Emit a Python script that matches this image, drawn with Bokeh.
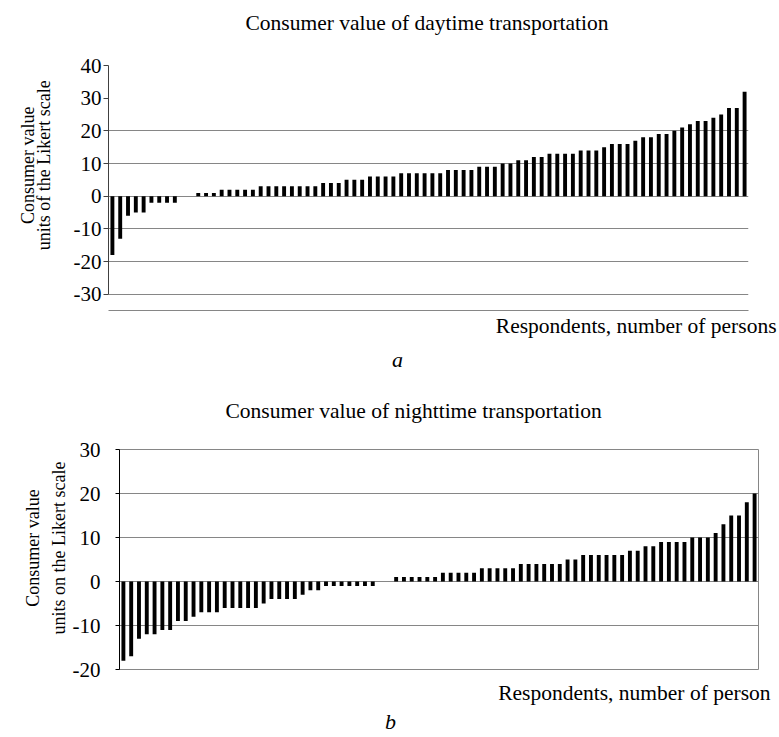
import math
from bokeh.plotting import figure
from bokeh.models import FixedTicker, Label, Range1d, CustomJSTickFormatter
from bokeh.layouts import column, row
from bokeh.embed import file_html
from bokeh.resources import INLINE

# ---- data ----
day_values = [-18, -13, -6, -5, -5, -2, -2, -2, -2, 0, 0,
              1, 1, 1, 2, 2, 2, 2, 2, 3, 3, 3, 3, 3, 3, 3, 3,
              4, 4, 4, 5, 5, 5, 6, 6, 6, 6, 7, 7, 7, 7, 7, 7,
              8, 8, 8, 8, 9, 9, 9, 10, 10, 11, 11, 12, 12,
              13, 13, 13, 13, 14, 14, 14, 15, 16, 16, 16, 17,
              18, 18, 19, 19, 20, 21, 22, 23, 23, 24, 25, 27, 27, 32]
night_values = [-18, -17, -13, -12, -12, -11, -11, -9, -9, -8, -7, -7, -7,
                -6, -6, -6, -6, -6, -5, -4, -4, -4, -4, -3, -2, -2,
                -1, -1, -1, -1, -1, -1, -1, 0, 0,
                1, 1, 1, 1, 1, 1, 2, 2, 2, 2, 2, 3, 3, 3, 3, 3,
                4, 4, 4, 4, 4, 4, 5, 5, 6, 6, 6, 6, 6, 6, 7, 7, 8, 8,
                9, 9, 9, 9, 10, 10, 10, 11, 13, 15, 15, 18, 20]
day_ticks = [-30, -20, -10, 0, 10, 20, 30, 40]
day_grid = [-30, -20, -10, 0, 10, 20, 40]
night_ticks = [-20, -10, 0, 10, 20, 30]

title_a = "Consumer value of daytime transportation"
title_b = "Consumer value of nighttime transportation"
ylab_a = ["Consumer value", "units of the Likert scale"]
ylab_b = ["Consumer value", "units on the Likert scale"]
xlab_a = "Respondents, number of persons"
xlab_b = "Respondents, number of person"
caption_a = "a"
caption_b = "b"

FONT = "Liberation Serif"
FS = "21.5px"
FS_TICK = "21px"
FS_Y = "18px"
FS_CAP = "22px"
GRID = "#868686"

n = len(day_values)
xs = list(range(1, n + 1))
fmt = CustomJSTickFormatter(code="return tick.toFixed(0);")


def text_fig(w, h):
    """A blank strip whose data coordinates are its own pixels (y downwards)."""
    t = figure(width=w, height=h, x_range=Range1d(0, w), y_range=Range1d(h, 0),
               output_backend="svg", toolbar_location=None, tools="",
               x_axis_location=None, y_axis_location=None,
               min_border=0, min_border_left=0, min_border_right=0,
               min_border_top=0, min_border_bottom=0)
    t.grid.visible = False
    t.outline_line_color = None
    t.background_fill_color = None
    t.border_fill_color = None
    return t


def add_text(f, x, y, text, align="left", baseline="middle", angle=0.0,
             size=FS, style="normal"):
    f.add_layout(Label(x=x, y=y, text=text, text_font=FONT, text_font_size=size,
                       text_font_style=style, text_align=align,
                       text_baseline=baseline, angle=angle, text_color="black"))


def chart_fig(w, h, yr, left, right, top, bottom):
    p = figure(width=w, height=h, x_range=Range1d(0.5, n + 0.5), y_range=Range1d(*yr),
               output_backend="svg", toolbar_location=None, tools="",
               min_border_left=left, min_border_right=right,
               min_border_top=top, min_border_bottom=bottom)
    p.background_fill_color = "white"
    p.border_fill_color = "white"
    p.xgrid.visible = False
    p.ygrid.grid_line_color = GRID
    p.ygrid.grid_line_width = 1
    p.yaxis.formatter = fmt
    p.yaxis.major_label_text_font = FONT
    p.yaxis.major_label_text_font_size = FS_TICK
    p.yaxis.major_label_text_color = "black"
    p.yaxis.minor_tick_line_color = None
    p.yaxis.minor_tick_out = 0
    p.yaxis.major_tick_in = 0
    return p


W = 779

# ---------- chart a (page y 0..380) ----------
ta = text_fig(W, 44)
add_text(ta, 245, 22, title_a)

YLA_W, ROWA_H = 62, 270
yla = text_fig(YLA_W, ROWA_H)
add_text(yla, 27, 110, ylab_a[0], align="center", angle=math.pi / 2, size=FS_Y)
add_text(yla, 43, 110, ylab_a[1], align="center", angle=math.pi / 2, size=FS_Y)

A_L, A_T, A_W, A_H = 46, 21, 640, 245
CA_W = W - YLA_W
pa = chart_fig(CA_W, ROWA_H, (-35, 40), A_L, CA_W - A_L - A_W, A_T, ROWA_H - A_T - A_H)
pa.outline_line_color = None
pa.yaxis.ticker = FixedTicker(ticks=day_ticks)
pa.ygrid.ticker = FixedTicker(ticks=day_grid)
pa.yaxis.bounds = (-30, 40)
pa.yaxis.axis_line_color = "#404040"
pa.yaxis.major_tick_line_color = "#404040"
pa.yaxis.major_tick_out = 5
pa.yaxis.major_label_standoff = 2
pa.xaxis.ticker = FixedTicker(ticks=[])
pa.xaxis.major_tick_out = 0
pa.xaxis.minor_tick_out = 0
pa.xaxis.major_label_standoff = 0
pa.xaxis.axis_line_color = GRID
pa.xaxis.major_tick_line_color = None
pa.xaxis.minor_tick_line_color = None
pa.vbar(x=xs, top=day_values, bottom=0, width=0.5, fill_color="black", line_color=None)

ba = text_fig(W, 66)
add_text(ba, 776, 11, xlab_a, align="right")
add_text(ba, 397, 45, caption_a, align="center", style="italic", size=FS_CAP)

# ---------- chart b (page y 380..736) ----------
tb = text_fig(W, 50)
add_text(tb, 225, 30, title_b)

YLB_W, ROWB_H = 69, 250
ylb = text_fig(YLB_W, ROWB_H)
add_text(ylb, 32, 112, ylab_b[0], align="center", angle=math.pi / 2, size=FS_Y)
add_text(ylb, 58, 112, ylab_b[1], align="center", angle=math.pi / 2, size=FS_Y)

B_L, B_T, B_W, B_H = 48, 19, 641, 220
CB_W = W - YLB_W
pb = chart_fig(CB_W, ROWB_H, (-20, 30), B_L, CB_W - B_L - B_W, B_T, ROWB_H - B_T - B_H)
pb.outline_line_color = GRID
pb.yaxis.ticker = FixedTicker(ticks=night_ticks)
pb.ygrid.ticker = FixedTicker(ticks=night_ticks)
pb.yaxis.axis_line_color = "black"
pb.yaxis.major_tick_line_color = "black"
pb.yaxis.major_tick_out = 4
pb.yaxis.major_label_standoff = 15
pb.xaxis.visible = False
pb.vbar(x=xs, top=night_values, bottom=0, width=0.5, fill_color="black", line_color=None)

bb = text_fig(W, 56)
add_text(bb, 770, 12, xlab_b, align="right")
add_text(bb, 390, 41, caption_b, align="center", style="italic", size=FS_CAP)

layout = column(ta, row(yla, pa, spacing=0), ba,
                tb, row(ylb, pb, spacing=0), bb, spacing=0)
open("out.html", "w").write(file_html(layout, INLINE))
